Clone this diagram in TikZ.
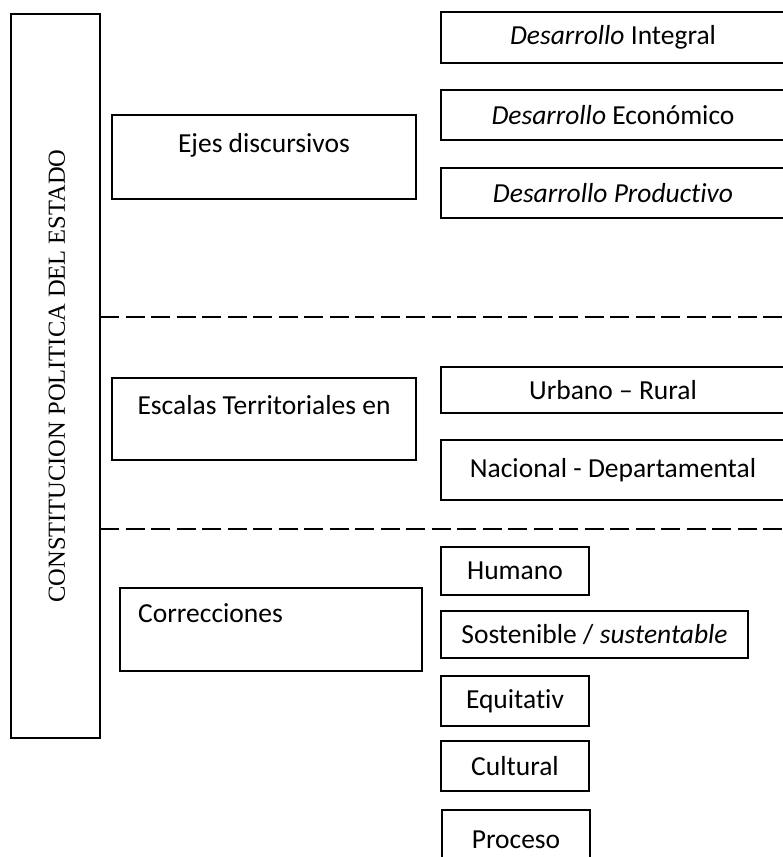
\documentclass[tikz,border=0pt]{standalone}
\usepackage{fontspec}
\setmainfont[Ligatures={NoCommon}]{Carlito}
\newfontfamily\cpeserif{Liberation Serif}
\begin{document}
\begin{tikzpicture}[x=1pt,y=-1pt,
  box/.style={draw, line width=1.4pt, inner sep=0pt, font=\fontsize{27.5}{32}\selectfont},
  lbl/.style={inner sep=0pt, font=\fontsize{27.5}{32}\selectfont},
  sep/.style={line width=1.4pt, dash pattern=on 19pt off 6.5pt}]
\useasboundingbox (0,0) rectangle (783,857);
\clip (0,0) rectangle (783,857);
% left column
\node[box, minimum width=89pt, minimum height=724pt] (cpebox) at (55.5,376) {};
\node[rotate=90, inner sep=0pt, font=\cpeserif\fontsize{24.5}{28}\selectfont] (cpe) at (57,376) {CONSTITUCION POLITICA DEL ESTADO};
% middle column
\node[box, minimum width=304pt, minimum height=84pt] (ejes) at (264,157) {};
\node[lbl] (ejest) at (264,145) {Ejes discursivos};
\node[box, minimum width=304pt, minimum height=82pt] (esc) at (264,419) {};
\node[lbl] (esct) at (264,405) {Escalas Territoriales en};
\node[box, minimum width=302pt, minimum height=83pt] (cor) at (271,629.5) {};
\node[lbl, anchor=west] (cort) at (138,613) {Correcciones};
% right column
\node[box, minimum width=344pt, minimum height=51pt] (d1) at (613,37.5) {\textit{Desarrollo} Integral};
\node[box, minimum width=344pt, minimum height=50pt] (d2) at (613,115) {\textit{Desarrollo} Económico};
\node[box, minimum width=344pt, minimum height=50pt] (d3) at (613,193) {\textit{Desarrollo Productivo}};
\node[box, minimum width=344pt, minimum height=46pt] (ur) at (613,390) {Urbano – Rural};
\node[box, minimum width=344pt, minimum height=60pt] (nd) at (613,470) {Nacional - Departamental};
\node[box, minimum width=148pt, minimum height=48pt] (hum) at (515,571) {Humano};
\node[box, minimum width=307pt, minimum height=47pt] (sos) at (594.5,634.5) {Sostenible / \textit{sustentable}};
\node[box, minimum width=148pt, minimum height=50pt] (equ) at (515,701) {Equitativ};
\node[box, minimum width=148pt, minimum height=50pt] (cul) at (515,766) {Cultural};
\node[box, minimum width=148pt, minimum height=60pt] (pro) at (516,840) {Proceso};
% separators
\coordinate (s1a) at (100,317);
\coordinate (s1b) at (790,317);
\coordinate (s2a) at (100,529);
\coordinate (s2b) at (790,529);
\draw[sep] (s1a) -- (s1b);
\draw[sep] (s2a) -- (s2b);
\end{tikzpicture}
\end{document}
